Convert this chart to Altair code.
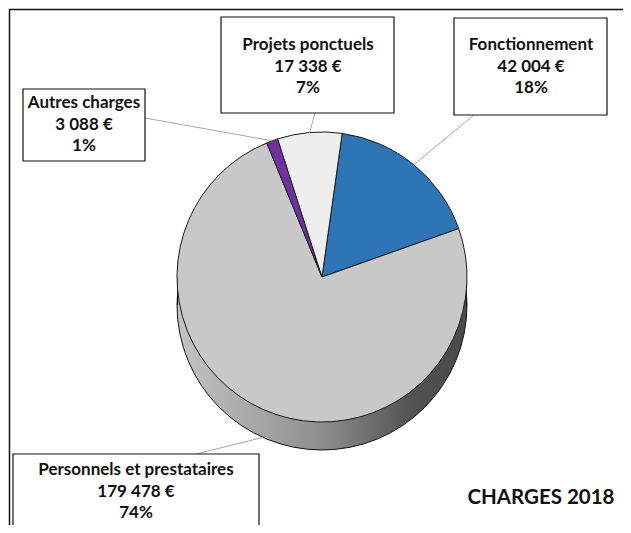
import math
import altair as alt
import pandas as pd

# ---- data ----
categories = ["Fonctionnement", "Personnels et prestataires", "Autres charges", "Projets ponctuels"]
amounts = [42004, 179478, 3088, 17338]
amount_labels = ["42 004 €", "179 478 €", "3 088 €", "17 338 €"]
percent_labels = ["18%", "74%", "1%", "7%"]
slice_colors = ["#2E75B6", "#C8C8C8", "#7030A0", "#EEEEEE"]
chart_title = "CHARGES 2018"

# ---- layout (chart pixel coordinates) ----
W, H = 615, 517
CX, CY, R, DEPTH = 313, 268, 145, 28
START = math.radians(8)
FONT = "Lato"

# label box layout: (box x, x2, y, y2, first-line centre x, y, leader anchor x, y)
box_layout = {
    "Fonctionnement": (445, 598, 9, 106, 522, 36, 465, 106),
    "Personnels et prestataires": (4, 250, 445, 540, 127, 461, 187, 445),
    "Autres charges": (14, 136, 80, 152, 75, 94, 136, 109),
    "Projets ponctuels": (212, 385, 8, 104, 299, 36, 306, 104),
}

total = sum(amounts)
rows = []
cum = 0.0
for i, (c, a, al, pl) in enumerate(zip(categories, amounts, amount_labels, percent_labels)):
    mid = START + 2 * math.pi * (cum + a / 2) / total
    cum += a
    bx, bx2, by, by2, tx, ty, ax, ay = box_layout[c]
    px = CX + R * math.sin(mid)
    py = CY - R * math.cos(mid)
    if math.cos(mid) < 0:  # slice seen on the front side: leader touches the lower edge
        py += DEPTH
    rows.append(dict(idx=i, category=c, amount=a, label=f"{c}\n{al}\n{pl}",
                     bx=bx, bx2=bx2, by=by, by2=by2, tx=tx, ty=ty,
                     ax=ax, ay=ay, px=px, py=py))
df = pd.DataFrame(rows)
one = pd.DataFrame({"k": [0]})

xs = alt.Scale(domain=[0, W], range=[0, W])
ys = alt.Scale(domain=[0, H], range=[0, H])

side_grad = alt.LinearGradient(
    gradient="linear",
    stops=[alt.GradientStop(color="#c4c4c4", offset=0),
           alt.GradientStop(color="#8e8e8e", offset=0.5),
           alt.GradientStop(color="#515151", offset=0.82),
           alt.GradientStop(color="#4a4a4a", offset=1)],
    x1=0, x2=1, y1=0, y2=0)

bottom = alt.Chart(one).mark_arc(
    theta=0, theta2=2 * math.pi, radius=R, fill=side_grad, stroke="#111", strokeWidth=1
).encode(x=alt.value(CX), y=alt.value(CY + DEPTH))

side = alt.Chart(one).mark_rect(fill=side_grad, strokeWidth=0).encode(
    x=alt.value(CX - R), x2=alt.value(CX + R), y=alt.value(CY), y2=alt.value(CY + DEPTH))

side_edges = alt.Chart(pd.DataFrame({"ex": [CX - R + 0.5, CX + R - 0.5]})).mark_rule(
    color="#111", strokeWidth=1).encode(
    x=alt.X("ex:Q", scale=xs, axis=None), y=alt.value(CY), y2=alt.value(CY + DEPTH))

pie = alt.Chart(df).mark_arc(radius=R, stroke="#1a1a1a", strokeWidth=1).encode(
    theta=alt.Theta("amount:Q", stack=True,
                    scale=alt.Scale(range=[START, START + 2 * math.pi])),
    order=alt.Order("idx:Q"),
    color=alt.Color("category:N", scale=alt.Scale(domain=categories, range=slice_colors),
                    legend=None),
    x=alt.value(CX), y=alt.value(CY))

leaders = alt.Chart(df).mark_rule(color="#a6a6a6", strokeWidth=1).encode(
    x=alt.X("ax:Q", scale=xs, axis=None), y=alt.Y("ay:Q", scale=ys, axis=None),
    x2="px:Q", y2="py:Q")

boxes = alt.Chart(df).mark_rect(fill="white", stroke="#111", strokeWidth=1.2).encode(
    x=alt.X("bx:Q", scale=xs, axis=None), x2="bx2:Q",
    y=alt.Y("by:Q", scale=ys, axis=None), y2="by2:Q")

texts = alt.Chart(df).mark_text(
    font=FONT, fontSize=17, fontWeight="bold", color="#111", lineBreak="\n",
    lineHeight=21.5, align="center", baseline="middle").encode(
    x=alt.X("tx:Q", scale=xs, axis=None), y=alt.Y("ty:Q", scale=ys, axis=None),
    text="label:N")

title = alt.Chart(one).mark_text(
    font=FONT, fontSize=20.5, fontWeight="bold", color="#111", align="center",
    baseline="middle", text=chart_title).encode(x=alt.value(532), y=alt.value(489))

border_top = alt.Chart(one).mark_rule(color="#111", strokeWidth=1.5).encode(
    x=alt.value(0), x2=alt.value(W), y=alt.value(0.5))
border_left = alt.Chart(one).mark_rule(color="#111", strokeWidth=1.5).encode(
    x=alt.value(0.5), y=alt.value(0), y2=alt.value(H))

chart = alt.layer(
    bottom, side, side_edges, pie, leaders, boxes, texts, title, border_top, border_left
).resolve_scale(color="independent").properties(
    width=W, height=H, padding=0,
    autosize=alt.AutoSizeParams(type="fit", contains="padding"),
    background="white",
).configure_view(stroke=None)

chart.save("out.html", embed_options={"renderer": "svg", "actions": False})
